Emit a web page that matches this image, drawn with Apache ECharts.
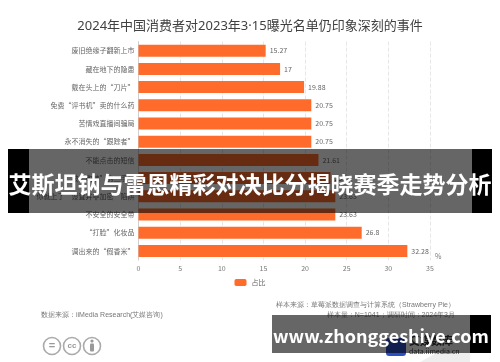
<!DOCTYPE html>
<html>
<head>
<meta charset="utf-8">
<script src="https://cdn.jsdelivr.net/npm/echarts@6/dist/echarts.min.js"></script>
<style>html,body{margin:0;padding:0;background:#fff;}#c{width:500px;height:362px;}</style>
</head>
<body>
<div id="c"></div>
<script>
const titleText = '2024年中国消费者对2023年3·15曝光名单仍印象深刻的事件';
const categories = ['废旧绝缘子翻新上市','藏在地下的隐患','戴在头上的“刀片”','免费“评书机”卖的什么药','苦情戏直播间骗局','永不消失的“跟踪者”','不能点击的短信','被“改装”的二手车','你就上了“设置并非加密”陷阱','不安全的安全带','“打脸”化妆品','调出来的“假香米”'];
const values = [15.27, 17, 19.88, 20.75, 20.75, 20.75, 21.61, 23.05, 23.63, 23.63, 26.8, 32.28];
const seriesName = '占比';
const axisMax = 35;
const axisStep = 5;
const unitName = '%';
const sourceLeft = '数据来源：iiMedia Research(艾媒咨询)';
const sampleSource = '样本来源：草莓派数据调查与计算系统（Strawberry Pie）';
const sampleSize = '样本量：N=1041；调研时间：2024年3月';
const bannerText = '艾斯坦钠与雷恩精彩对决比分揭晓赛季走势分析';
const siteText = 'www.zhonggeshiye.com';

const FONT = '"Noto Sans CJK SC", "Noto Sans", sans-serif';
const TFONT = '"Noto Sans", "Noto Sans CJK SC", sans-serif';
const chart = echarts.init(document.getElementById('c'), null, {renderer: 'canvas'});
chart.setOption({
  backgroundColor: '#fff',
  animation: false,
  textStyle: {fontFamily: FONT},
  title: {
    text: titleText, left: 'center', top: 15,
    textStyle: {fontSize: 13, fontWeight: 'normal', color: '#404040', fontFamily: TFONT}
  },
  legend: {
    data: [seriesName], left: 'center', top: 274, itemWidth: 12, itemHeight: 7, itemGap: 4,
    textStyle: {fontSize: 7, color: '#666', fontFamily: FONT}
  },
  grid: {left: 138.5, right: 70, top: 41.6, bottom: 102, containLabel: false},
  xAxis: {
    type: 'value', min: 0, max: axisMax, interval: axisStep,
    name: unitName, nameLocation: 'end', nameGap: 5,
    nameTextStyle: {fontSize: 7, color: '#777', verticalAlign: 'bottom', padding: [0,0,0,0]},
    axisLine: {show: false}, axisTick: {show: false},
    axisLabel: {fontSize: 7, color: '#777', margin: 5},
    splitLine: {show: true, lineStyle: {color: '#e6e6e6', type: 'dashed', width: 1}}
  },
  yAxis: {
    type: 'category', data: categories, inverse: true,
    axisLine: {show: true, lineStyle: {color: '#cfcfcf', width: 1}},
    axisTick: {show: false},
    axisLabel: {fontSize: 7, color: '#666', margin: 4}
  },
  series: [{
    name: seriesName, type: 'bar', data: values, barWidth: 12,
    itemStyle: {color: '#FF6B2B'},
    label: {show: true, position: 'right', distance: 4, fontSize: 7, color: '#666'}
  }],
  graphic: [
    {type: 'text', left: 41, top: 312, style: {text: sourceLeft, fontSize: 7, fill: '#777', font: '7px ' + FONT}},
    {type: 'text', right: 45, top: 302, style: {text: sampleSource, fontSize: 7, fill: '#777', font: '7px ' + FONT}},
    {type: 'text', right: 45, top: 312, style: {text: sampleSize, fontSize: 7, fill: '#777', font: '7px ' + FONT}},
    // CC icons
    {type: 'circle', shape: {cx: 52, cy: 346, r: 8.5}, style: {fill: '#fff', stroke: '#aaa', lineWidth: 1.6}},
    {type: 'text', x: 52, y: 346, style: {text: '=', fill: '#999', font: 'bold 11px sans-serif', align: 'center', verticalAlign: 'middle'}},
    {type: 'circle', shape: {cx: 72, cy: 346, r: 8.5}, style: {fill: '#fff', stroke: '#aaa', lineWidth: 1.6}},
    {type: 'text', x: 72, y: 346, style: {text: 'cc', fill: '#999', font: 'bold 8px sans-serif', align: 'center', verticalAlign: 'middle'}},
    {type: 'circle', shape: {cx: 92, cy: 346, r: 8.5}, style: {fill: '#fff', stroke: '#aaa', lineWidth: 1.6}},
    {type: 'circle', shape: {cx: 92, cy: 341, r: 1.6}, style: {fill: '#999'}},
    {type: 'rect', shape: {x: 90, y: 343.5, width: 4, height: 8, r: 1}, style: {fill: '#999'}},
    // logo behind banner
    {type: 'polygon', z: 1, shape: {points: [[420,362],[470,335],[470,362]]}, style: {fill: '#eeeeee'}},
    {type: 'rect', z: 2, shape: {x: 386, y: 338, width: 20, height: 18, r: 3}, style: {fill: '#2B4FC4'}},
    {type: 'text', z: 2, left: 409, top: 335, style: {text: '艾媒数库', fill: '#333', font: 'bold 11px ' + FONT}},
    {type: 'text', z: 2, left: 409, top: 348, style: {text: 'data.iimedia.cn', fill: '#333', font: '7px ' + FONT}},
    // top banner
    {type: 'rect', z: 100, shape: {x: 8, y: 149, width: 21, height: 64}, style: {fill: '#000'}},
    {type: 'rect', z: 100, shape: {x: 472, y: 149, width: 20, height: 64}, style: {fill: '#000'}},
    {type: 'rect', z: 100, shape: {x: 29, y: 149, width: 443, height: 64}, style: {fill: 'rgba(0,0,0,0.6)'}},
    {type: 'text', z: 101, x: 250, y: 184, style: {text: bannerText, fill: '#fff', font: 'bold 23px ' + FONT, align: 'center', verticalAlign: 'middle'}},
    // bottom banner
    {type: 'rect', z: 100, shape: {x: 272, y: 315, width: 198, height: 38}, style: {fill: 'rgba(0,0,0,0.6)'}},
    {type: 'rect', z: 100, shape: {x: 470, y: 315, width: 21, height: 38}, style: {fill: '#000'}},
    {type: 'text', z: 101, x: 381, y: 336, style: {text: siteText, fill: '#fff', font: 'bold 18px ' + FONT, align: 'center', verticalAlign: 'middle'}}
  ]
});
</script>
</body>
</html>
